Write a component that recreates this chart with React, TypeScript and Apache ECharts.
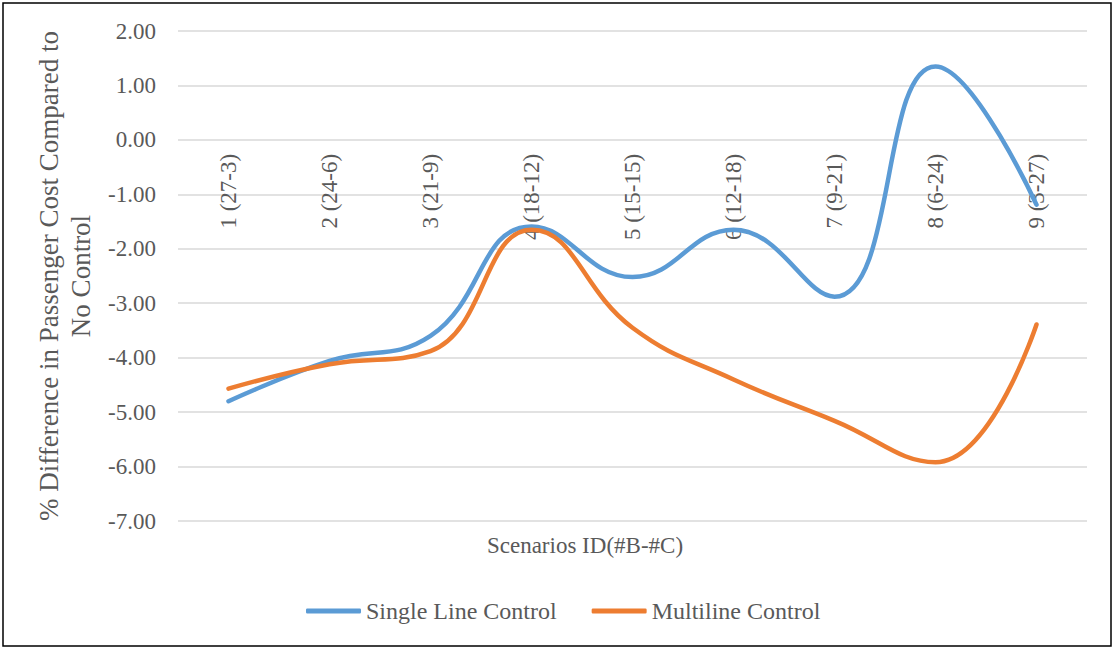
import React, { useEffect, useRef } from "react";
import * as echarts from "echarts";

const categories = ["1 (27-3)", "2 (24-6)", "3 (21-9)", "4 (18-12)", "5 (15-15)", "6 (12-18)", "7 (9-21)", "8 (6-24)", "9 (3-27)"];
const singleLine = [-4.8, -4.06, -3.6, -1.59, -2.52, -1.65, -2.88, 1.35, -1.19];
const multiLine = [-4.57, -4.12, -3.88, -1.65, -3.45, -4.4, -5.16, -5.92, -3.39];
const seriesNames = ["Single Line Control", "Multiline Control"];
const yTitle = "% Difference in Passenger Cost Compared to\nNo Control";
const xTitle = "Scenarios ID(#B-#C)";

const FONT = "'Liberation Serif', 'Times New Roman', serif";
const TXT = "#595959";
const GRID_TOP = 31;
const GRID_BOTTOM = 129;
const CHART_H = 650;
const Y_MIN = -7;
const Y_MAX = 2;

export default function App() {
  const ref = useRef<HTMLDivElement>(null);
  useEffect(() => {
    const chart = echarts.init(ref.current!, null, { renderer: "svg" });
    const gridH = CHART_H - GRID_TOP - GRID_BOTTOM;
    // move the category axis up from the bottom edge to the zero line
    const zeroOffset = -(gridH * (0 - Y_MIN)) / (Y_MAX - Y_MIN);
    chart.setOption({
      animation: false,
      backgroundColor: "#fff",
      textStyle: { fontFamily: FONT },
      grid: { left: 178, right: 28, top: GRID_TOP, bottom: GRID_BOTTOM },
      legend: {
        data: seriesNames,
        top: 594,
        left: 301,
        icon: "roundRect",
        itemWidth: 55,
        itemHeight: 5,
        itemGap: 35,
        textStyle: { fontFamily: FONT, fontSize: 24, color: TXT },
      },
      xAxis: {
        type: "category",
        data: categories,
        boundaryGap: true,
        offset: zeroOffset,
        z: 0,
        axisLine: { show: false, onZero: false },
        axisTick: { show: false },
        axisLabel: { rotate: 90, margin: 14, fontFamily: FONT, fontSize: 23, color: TXT, interval: 0 },
        splitLine: { show: false },
      },
      yAxis: {
        type: "value",
        min: Y_MIN,
        max: Y_MAX,
        interval: 1,
        name: yTitle,
        nameLocation: "middle",
        nameGap: 76,
        nameTextStyle: { fontFamily: FONT, fontSize: 27, color: TXT, lineHeight: 32 },
        axisLine: { show: false },
        axisTick: { show: false },
        axisLabel: { formatter: (v: number) => v.toFixed(2), margin: 22, fontFamily: FONT, fontSize: 23, color: TXT },
        splitLine: { lineStyle: { color: "#D9D9D9", width: 1.5 } },
      },
      series: [
        {
          name: seriesNames[0],
          type: "line",
          data: singleLine,
          smooth: 0.45,
          showSymbol: false,
          z: 5,
          lineStyle: { color: "#5B9BD5", width: 4.5, cap: "round" },
          itemStyle: { color: "#5B9BD5" },
        },
        {
          name: seriesNames[1],
          type: "line",
          data: multiLine,
          smooth: 0.45,
          showSymbol: false,
          z: 5,
          lineStyle: { color: "#ED7D31", width: 4.5, cap: "round" },
          itemStyle: { color: "#ED7D31" },
        },
      ],
      graphic: [
        {
          type: "rect",
          shape: { x: 3, y: 3, width: 1108, height: 643 },
          style: { fill: "none", stroke: "#000", lineWidth: 1.5 },
          silent: true,
        },
        {
          type: "text",
          x: 585,
          y: 545,
          style: { text: xTitle, fontFamily: FONT, fontSize: 23, fill: TXT, align: "center", verticalAlign: "middle" },
        },
      ],
    });
    return () => chart.dispose();
  }, []);
  return <div ref={ref} style={{ position: "fixed", left: 0, top: 0, width: 1115, height: 650 }} />;
}
